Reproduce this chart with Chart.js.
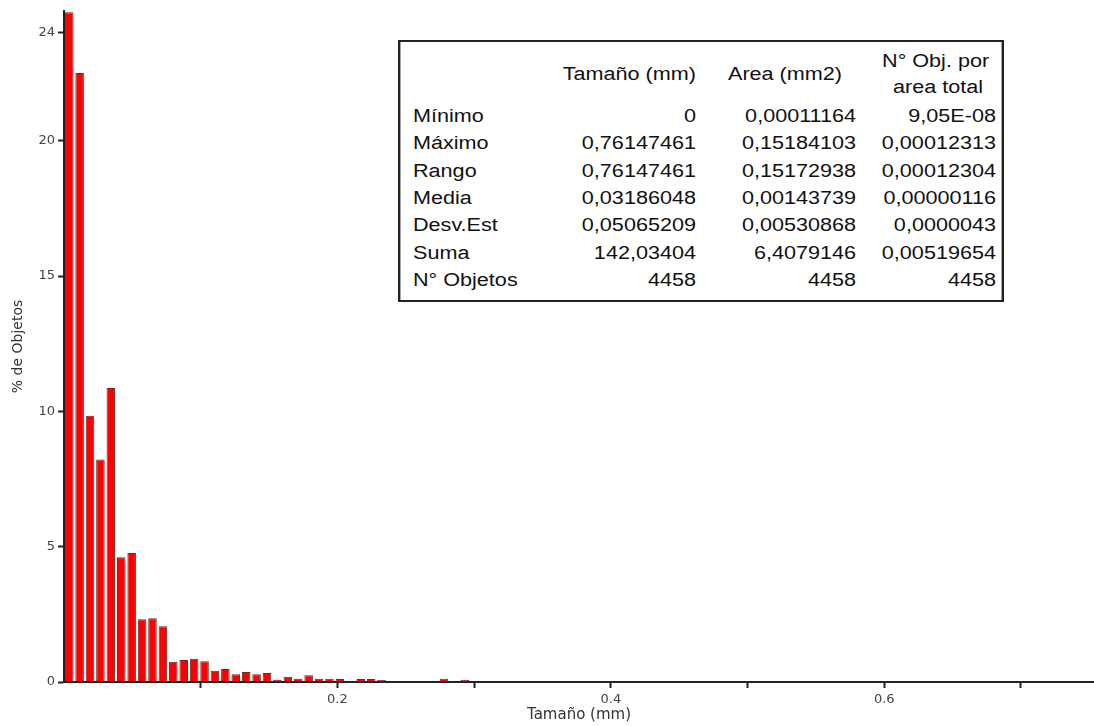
<!DOCTYPE html>
<html>
<head>
<meta charset="utf-8">
<script src="https://cdn.jsdelivr.net/npm/chart.js@4.4.1/dist/chart.umd.min.js"></script>
<style>
  body { margin: 0; background: #fff; }
  #wrap { position: relative; width: 1094px; height: 726px; }
  #stats {
    position: absolute; left: 398px; top: 40px; width: 505px; height: 262px;
    transform: scaleX(1.2); transform-origin: 0 0;
    border: 2px solid #222; box-sizing: border-box; background: #fff;
    font-family: "Liberation Sans", Arial, sans-serif; font-size: 18px; color: #111;
  }
  #stats div { position: absolute; line-height: 20px; white-space: nowrap; }
</style>
</head>
<body>
<div id="wrap">
  <canvas id="hist" width="1094" height="726"></canvas>
  <div id="stats"></div>
</div>
<script>
// histogram: 100 bins over 0 .. 0.76147461 mm
const rangoMax = 0.76147461;
const nBins = 100;
const pctObjetos = [
  24.75, 22.5, 9.84, 8.22, 10.86, 4.61, 4.77, 2.32, 2.36, 2.06,
  0.75, 0.81, 0.86, 0.77, 0.42, 0.48, 0.29, 0.37, 0.29, 0.33,
  0.08, 0.19, 0.12, 0.25, 0.12, 0.12, 0.11, 0, 0.11, 0.11,
  0.07, 0, 0, 0, 0, 0, 0.12, 0, 0.08
];
const yTicks = [0, 5, 10, 15, 20, 24];
const xTicks = [0.1, 0.2, 0.3, 0.4, 0.5, 0.6, 0.7];
const xLabeled = [0.2, 0.4, 0.6];

// summary table
const statHeaders = ['Tamaño (mm)', 'Area (mm2)', ['N° Obj. por', 'area total']];
const statRows = ['Mínimo', 'Máximo', 'Rango', 'Media', 'Desv.Est', 'Suma', 'N° Objetos'];
const tamanoVals = ['0', '0,76147461', '0,76147461', '0,03186048', '0,05065209', '142,03404', '4458'];
const areaVals = ['0,00011164', '0,15184103', '0,15172938', '0,00143739', '0,00530868', '6,4079146', '4458'];
const objAreaVals = ['9,05E-08', '0,00012313', '0,00012304', '0,00000116', '0,0000043', '0,00519654', '4458'];

const binWidth = rangoMax / nBins;
const points = pctObjetos.map((v, i) => ({ x: (i + 0.5) * binWidth, y: v }));

const tickFont = { family: 'DejaVu Sans', size: 13 };

new Chart(document.getElementById('hist'), {
  type: 'bar',
  data: {
    datasets: [{
      data: points,
      backgroundColor: '#ff0000',
      borderColor: 'rgba(90,0,0,0.85)',
      borderWidth: 1,
      categoryPercentage: 1,
      barPercentage: 0.82
    }]
  },
  options: {
    responsive: false,
    devicePixelRatio: 1,
    animation: false,
    layout: { padding: { top: 7, right: 0, left: 0, bottom: 0 } },
    plugins: { legend: { display: false }, tooltip: { enabled: false } },
    scales: {
      x: {
        type: 'linear',
        min: 0,
        max: 0.7534,
        offset: false,
        afterFit: s => { s.height = 44; },
        afterBuildTicks: s => { s.ticks = xTicks.map(v => ({ value: v })); },
        ticks: {
          color: '#444', font: tickFont, padding: 4, maxRotation: 0,
          callback: v => xLabeled.includes(+v.toFixed(1)) ? v.toFixed(1) : ''
        },
        grid: { drawOnChartArea: false, drawTicks: true, tickLength: 6, tickColor: '#222', tickWidth: 2, offset: false },
        border: { display: true, color: '#222', width: 2 },
        title: {
          display: true, text: 'Tamaño (mm)', color: '#333',
          font: { family: 'DejaVu Sans', size: 15 }, padding: { top: 0, bottom: 2 }
        }
      },
      y: {
        min: 0,
        max: 24.8,
        afterFit: s => { s.width = 64; },
        afterBuildTicks: s => { s.ticks = yTicks.map(v => ({ value: v })); },
        ticks: { color: '#444', font: tickFont, padding: 3 },
        grid: { drawOnChartArea: false, drawTicks: true, tickLength: 6, tickColor: '#222', tickWidth: 2 },
        border: { display: true, color: '#222', width: 2 },
        title: {
          display: true, text: '% de Objetos', color: '#333',
          font: { family: 'DejaVu Sans', size: 14 }, padding: { top: 10, bottom: 0 }
        }
      }
    }
  }
});

// table text, laid out in the box's own (unstretched) coordinates
const box = document.getElementById('stats');
function put(text, top, style) {
  const d = document.createElement('div');
  d.textContent = text;
  d.style.top = top + 'px';
  Object.assign(d.style, style);
  box.appendChild(d);
}
put(statHeaders[0], 22, { right: '254.7px' });
put(statHeaders[1], 22, { right: '133px' });
put(statHeaders[2][0], 9, { left: '386px', width: '120px', textAlign: 'center' });
put(statHeaders[2][1], 35, { left: '388px', width: '120px', textAlign: 'center' });
statRows.forEach((name, i) => {
  const top = 64 + i * 27.3;
  put(name, top, { left: '10.5px' });
  put(tamanoVals[i], top, { right: '254.7px' });
  put(areaVals[i], top, { right: '121.3px' });
  put(objAreaVals[i], top, { right: '4.7px' });
});
</script>
</body>
</html>
